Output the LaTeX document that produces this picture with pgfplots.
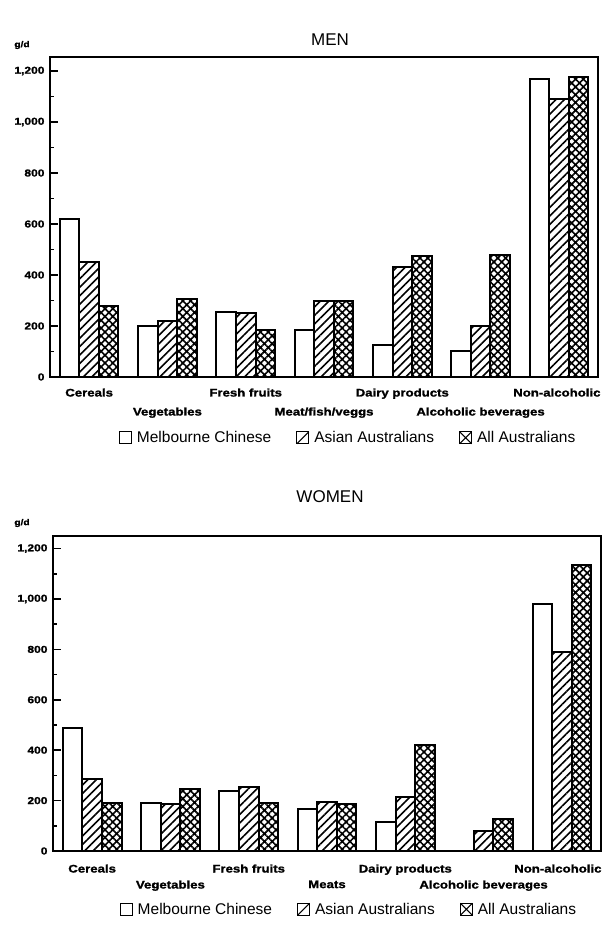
\documentclass[border=0pt]{standalone}
\usepackage{pgfplots}
\pgfplotsset{compat=1.18}
\usepackage{pgfplotstable}
\usepackage{fontspec}
\setmainfont{Liberation Sans}
\newfontfamily\catfont[FakeStretch=1.2,FakeBold=1.5]{Liberation Sans Bold}
\usetikzlibrary{patterns.meta}

\pgfplotstableread{
x mc asian all
0 620 450 280
1 200 220 305
2 255 250 185
3 185 300 300
4 125 430 475
5 100 200 480
6 1170 1090 1175
}\men
\pgfplotstableread{
x mc asian all
0 490 285 190
1 190 185 245
2 240 255 190
3 165 195 185
4 115 215 420
5 0 80 125
6 980 790 1135
}\women

\pgfplotsset{
 mystyle/.style={
  scale only axis, width=548pt,
  ybar=0pt, bar width=0.25,
  xmin=-0.5, xmax=6.5, ymin=0,
  axis line style={line width=2pt},
  tick pos=left,
  xtick={0,2,4,6},
  major x tick style={draw=none},
  xticklabel style={font=\catfont\fontsize{11}{12}\selectfont},
  extra x ticks={1,3,5},
  extra x tick style={major x tick style={draw=none}},
  ytick={0,200,...,1200}, minor y tick num=1,
  ytick align=inside,
  major tick length=8pt, minor tick length=4pt,
  every tick/.style={black, line width=1.5pt},
  yticklabel style={font=\catfont\fontsize{10}{11}\selectfont, xshift=-2pt,
    /pgf/number format/assume math mode=true, /pgf/number format/1000 sep={,}},
  legend columns=3,
  legend style={draw=none, font=\fontsize{15.5}{17}\selectfont, anchor=center,
     /tikz/every even column/.append style={column sep=23pt},
     /tikz/every odd column/.append style={column sep=3pt}},
  every axis plot/.append style={draw=black, line width=2pt},
 },
 mc/.style={fill=white, forget plot, bar shift=-0.25},
 asian/.style={pattern={Lines[angle=45,distance=6pt,line width=1.6pt]}, forget plot, bar shift=0},
 allau/.style={pattern={Hatch[angle=45,distance=5.5pt,line width=1.6pt]}, forget plot, bar shift=0.25},
 legmc/.style={legend image code/.code={\draw[black, fill=white, line width=1pt] (0pt,-6pt) rectangle (12pt,6pt);}},
 legasian/.style={legend image code/.code={\draw[black, fill=white, line width=1pt] (0pt,-6pt) rectangle (12pt,6pt); \draw[black, line width=1pt] (0pt,-6pt) -- (12pt,6pt);}},
 legall/.style={legend image code/.code={\draw[black, fill=white, line width=1pt] (0pt,-6pt) rectangle (12pt,6pt); \draw[black, line width=1pt] (0pt,-6pt) -- (12pt,6pt) (0pt,6pt) -- (12pt,-6pt);}},
}

\begin{document}
\begin{tikzpicture}
\useasboundingbox (0pt,0pt) rectangle (603pt,927pt);
\node at (330pt,887pt) {\fontsize{17}{19}\selectfont MEN};
\node at (330pt,430pt) {\fontsize{17}{19}\selectfont WOMEN};
\node at (22pt,882pt) {\catfont\fontsize{8.5}{9}\selectfont g/d};
\node at (22pt,404pt) {\catfont\fontsize{8.5}{9}\selectfont g/d};

\begin{axis}[mystyle, at={(50pt,550pt)}, anchor=south west, height=320pt, ymax=1255,
  xticklabels={Cereals, Fresh fruits, Dairy products, Non-alcoholic\hspace*{4pt}},
  extra x tick labels={Vegetables, Meat/fish/veggs, Alcoholic beverages},
  extra x tick style={xticklabel style={yshift=-19pt}},
  legend style={at={(0.544,-0.19)}}]
\addplot[mc] table[x=x,y=mc]{\men};
\addplot[asian] table[x=x,y=asian]{\men};
\addplot[allau] table[x=x,y=all]{\men};
\addlegendimage{legmc}\addlegendentry{Melbourne Chinese}
\addlegendimage{legasian}\addlegendentry{Asian Australians}
\addlegendimage{legall}\addlegendentry{All Australians}
\end{axis}

\begin{axis}[mystyle, at={(53pt,76pt)}, anchor=south west, height=315pt, ymax=1250,
  xticklabels={Cereals, Fresh fruits, Dairy products, Non-alcoholic\hspace*{8pt}},
  xticklabel style={yshift=-2pt},
  extra x tick labels={Vegetables, Meats, Alcoholic beverages},
  extra x tick style={xticklabel style={yshift=-16pt}},
  legend style={at={(0.54,-0.185)}}]
\addplot[mc] table[x=x,y=mc]{\women};
\addplot[asian] table[x=x,y=asian]{\women};
\addplot[allau] table[x=x,y=all]{\women};
\addlegendimage{legmc}\addlegendentry{Melbourne Chinese}
\addlegendimage{legasian}\addlegendentry{Asian Australians}
\addlegendimage{legall}\addlegendentry{All Australians}
\end{axis}
\end{tikzpicture}
\end{document}
